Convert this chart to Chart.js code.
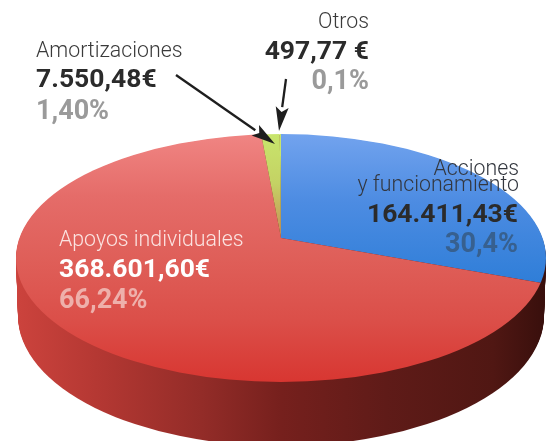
<!DOCTYPE html>
<html lang="es">
<head>
<meta charset="utf-8">
<title>Gastos</title>
<script src="https://cdn.jsdelivr.net/npm/chart.js@4"></script>
<style>
  html, body { margin: 0; padding: 0; background: #fff; }
  #wrap { width: 552px; height: 441px; overflow: hidden; }
  #grafico { filter: blur(0.45px); }
</style>
</head>
<body>
<div id="wrap"><canvas id="grafico" width="552" height="441"></canvas></div>
<script>
/* ============================================================
DATOS
============================================================ */

const categorias = ["Acciones y funcionamiento", "Apoyos individuales", "Amortizaciones", "Otros"];
const importes = [164411.43, 368601.60, 7550.48, 497.77];
const importesTexto = ["164.411,43€", "368.601,60€", "7.550,48€", "497,77 €"];
const porcentajes = ["30,4%", "66,24%", "1,40%", "0,1%"];

/* ============================================================
GEOMETRIA DEL DISCO
============================================================ */

// el vertice de la tarta no cae en el centro de la elipse (perspectiva)
const RADIO = 320;
const APLASTADO = 0.49;
const ELIPSE_DY = 20; // centro de la tapa respecto al vertice
const ELIPSE_RX = 265;
const ELIPSE_RY = 124;
const GROSOR = 58;

// y de pantalla -> y del grafico sin aplastar
function yPlano(chart, y) {
  const cy = (chart.chartArea.top + chart.chartArea.bottom) / 2;
  return cy + (y - cy) / APLASTADO;
}

function degradado(chart, paradas) {
  const ctx = chart.ctx;
  const g = ctx.createLinearGradient(0, yPlano(chart, 134), 0, yPlano(chart, 382));
  paradas.forEach(([p, c]) => g.addColorStop(p, c));
  return g;
}

function colorPorcion(context) {
  const chart = context.chart;
  if (!chart.chartArea) return "#ccc";
  const i = context.dataIndex;
  if (i === 0) return degradado(chart, [[0, "#72a3ee"], [0.27, "#4d8ce2"], [0.6, "#2f7ed8"], [1, "#2f7ed8"]]);
  if (i === 1) return degradado(chart, [[0, "#f08583"], [0.25, "#e56c69"], [0.5, "#df5f59"], [0.75, "#db4f49"], [1, "#d83631"]]);
  if (i === 2) return degradado(chart, [[0, "#c8e56c"], [0.2, "#c4d264"], [0.42, "#c88a55"], [1, "#c88a55"]]);
  return "#c8e56c";
}

/* ============================================================
PLUGIN 3D: pared lateral + aplastado
============================================================ */

const disco3d = {
  id: "disco3d",
  beforeDatasetsDraw(chart) {
    const ctx = chart.ctx;
    const arco = chart.getDatasetMeta(0).data[0];
    const cx = arco.x;
    const cy = arco.y;
    const tapaY = cy + ELIPSE_DY;

    ctx.save();

    const pared = ctx.createLinearGradient(cx - ELIPSE_RX, 0, cx + ELIPSE_RX, 0);
    pared.addColorStop(0, "#cc433d");
    pared.addColorStop(0.15, "#b53833");
    pared.addColorStop(0.35, "#932c28");
    pared.addColorStop(0.5, "#76201d");
    pared.addColorStop(0.7, "#5f1b18");
    pared.addColorStop(0.9, "#501713");
    pared.addColorStop(1, "#380f0c");

    ctx.fillStyle = pared;
    for (let d = GROSOR; d > 0; d -= 1) {
      const t = d / GROSOR;
      ctx.beginPath();
      ctx.ellipse(cx, tapaY + d, ELIPSE_RX - 2 * t, ELIPSE_RY + 6 * t, 0, 0, Math.PI * 2);
      ctx.fill();
    }

    // recorte con la elipse de la tapa; el restore va en afterDatasetsDraw
    ctx.beginPath();
    ctx.ellipse(cx, tapaY, ELIPSE_RX, ELIPSE_RY, 0, 0, Math.PI * 2);
    ctx.clip();

    ctx.translate(0, cy);
    ctx.scale(1, APLASTADO);
    ctx.translate(0, -cy);
  },
  afterDatasetsDraw(chart) {
    chart.ctx.restore();
  },
};

/* ============================================================
PLUGIN ETIQUETAS Y FLECHAS
============================================================ */

const F_TITULO = "300 21.3px Roboto";
const F_IMPORTE = "700 26.5px Roboto";
const F_PORC = "700 27px Roboto";

function texto(ctx, t, x, y, fuente, color, align) {
  ctx.font = fuente;
  ctx.fillStyle = color;
  ctx.textAlign = align;
  ctx.fillText(t, x, y);
}

function flecha(ctx, x0, y0, x1, y1) {
  const ang = Math.atan2(y1 - y0, x1 - x0);
  const largo = 24;
  const ancho = 6.5;
  const bx = x1 - Math.cos(ang) * largo;
  const by = y1 - Math.sin(ang) * largo;

  ctx.strokeStyle = "#1e1e1e";
  ctx.fillStyle = "#1e1e1e";
  ctx.lineWidth = 2.3;
  ctx.beginPath();
  ctx.moveTo(x0, y0);
  ctx.lineTo(bx, by);
  ctx.stroke();

  ctx.beginPath();
  ctx.moveTo(x1, y1);
  ctx.lineTo(bx - Math.sin(ang) * ancho, by + Math.cos(ang) * ancho);
  ctx.lineTo(x1 - Math.cos(ang) * largo * 0.8, y1 - Math.sin(ang) * largo * 0.8);
  ctx.lineTo(bx + Math.sin(ang) * ancho, by - Math.cos(ang) * ancho);
  ctx.closePath();
  ctx.fill();
}

const etiquetas = {
  id: "etiquetas",
  afterDraw(chart) {
    const ctx = chart.ctx;
    const oscuro = "#2b2b2b";
    const gris = "#9a9a9a";

    ctx.save();
    ctx.textBaseline = "alphabetic";

    /* otros */
    texto(ctx, categorias[3], 369, 28, F_TITULO, "#3a3a3a", "right");
    texto(ctx, importesTexto[3], 369, 59, F_IMPORTE, oscuro, "right");
    texto(ctx, porcentajes[3], 369, 89, F_PORC, gris, "right");

    /* amortizaciones */
    texto(ctx, categorias[2], 36, 57, F_TITULO, "#3a3a3a", "left");
    texto(ctx, importesTexto[2], 36, 87, F_IMPORTE, oscuro, "left");
    texto(ctx, porcentajes[2], 36, 119, F_PORC, gris, "left");

    /* acciones */
    texto(ctx, "Acciones", 519, 175, F_TITULO, "#33373f", "right");
    texto(ctx, "y funcionamiento", 519, 191, F_TITULO, "#33373f", "right");
    texto(ctx, importesTexto[0], 518, 222, F_IMPORTE, oscuro, "right");
    texto(ctx, porcentajes[0], 518, 252, F_PORC, "#37608f", "right");

    /* apoyos */
    texto(ctx, categorias[1], 59, 246, F_TITULO, "#fbe3e1", "left");
    texto(ctx, importesTexto[1], 59, 277, F_IMPORTE, "#ffffff", "left");
    texto(ctx, porcentajes[1], 59, 308, F_PORC, "#eeb0ab", "left");

    flecha(ctx, 176, 75, 275, 144);
    flecha(ctx, 286, 79, 279, 131);

    ctx.restore();
  },
};

/* ============================================================
GRAFICO
============================================================ */

new Chart(document.getElementById("grafico"), {
  type: "pie",
  data: {
    labels: categorias,
    datasets: [
      {
        data: importes,
        backgroundColor: colorPorcion,
        borderWidth: 0,
        clip: false,
      },
    ],
  },
  options: {
    responsive: false,
    animation: false,
    radius: RADIO,
    layout: { padding: { left: 10, top: 35 } },
    plugins: {
      legend: { display: false },
      tooltip: { enabled: false },
    },
  },
  plugins: [disco3d, etiquetas],
});
</script>
</body>
</html>
